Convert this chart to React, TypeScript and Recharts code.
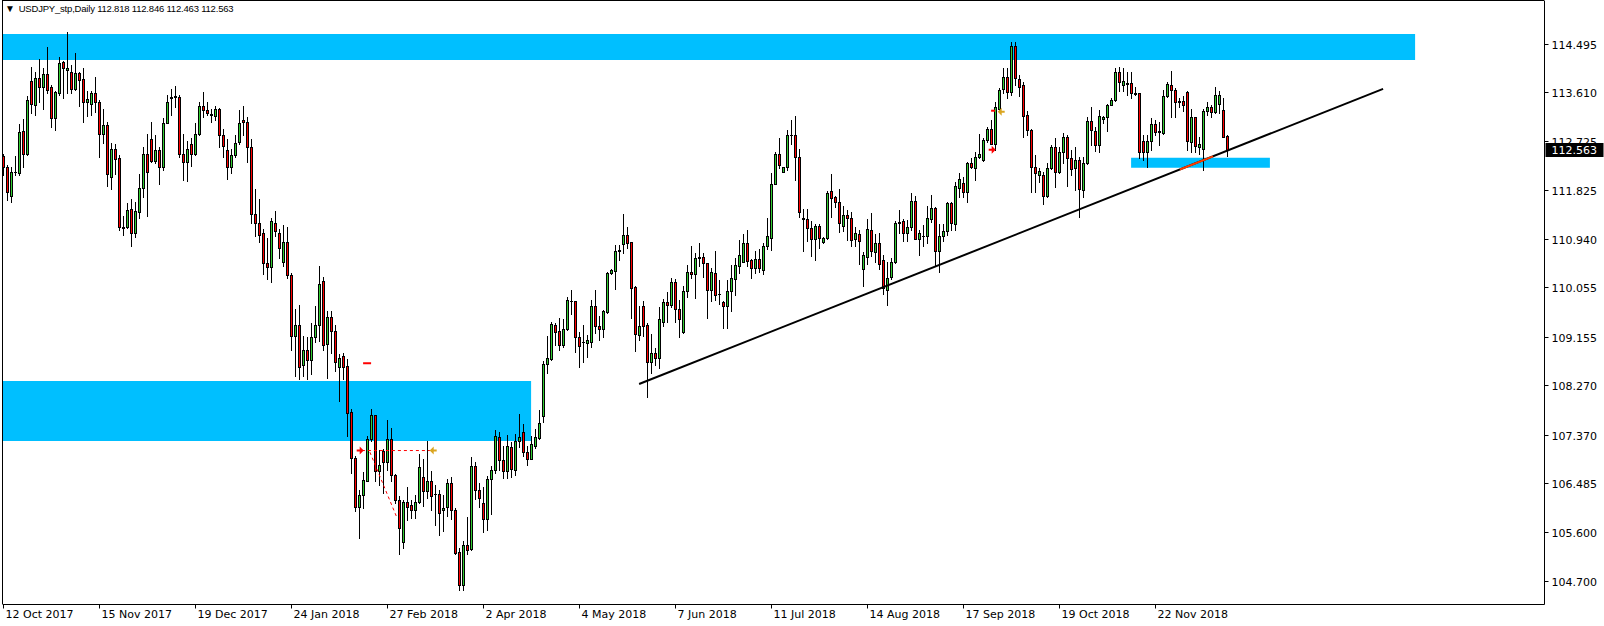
import React from 'react'
import {
  ComposedChart,
  Bar,
  XAxis,
  YAxis,
  ReferenceArea,
  ReferenceLine,
  ReferenceDot,
} from 'recharts'

// USDJPY_stp daily, bar 0 = 12 Oct 2017
const open = [
  112.45, 112.26, 111.73, 112.16, 112.15, 112.91, 112.49, 113.83, 113.39, 113.87,
  113.71, 113.94, 113.71, 113.14, 113.60, 114.17, 114.03, 113.98, 113.67, 113.96,
  113.85, 113.44, 113.40, 113.60, 113.43, 112.85, 113.02, 112.08, 112.59, 112.41,
  111.16, 111.16, 111.49, 111.06, 111.44, 111.88, 112.50, 112.77, 112.36, 112.56,
  112.25, 113.06, 113.52, 113.53, 113.53, 112.50, 112.35, 112.68, 112.49, 112.85,
  113.36, 113.30, 113.22, 113.19, 113.32, 112.84, 112.56, 112.25, 112.48, 112.71,
  113.11, 113.07, 112.61, 111.40, 111.23, 111.05, 110.50, 110.43, 111.24, 111.05,
  110.53, 110.89, 110.29, 109.18, 109.38, 108.65, 108.92, 108.73, 109.15, 109.37,
  110.18, 109.03, 109.52, 109.27, 108.62, 108.81, 108.63, 107.79, 106.96, 106.07,
  106.28, 106.54, 107.30, 107.73, 106.71, 107.08, 106.88, 107.30, 106.65, 106.18,
  105.43, 106.15, 106.10, 106.01, 106.16, 106.61, 106.36, 106.54, 106.29, 106.30,
  106.01, 106.06, 106.50, 106.01, 105.25, 104.64, 105.37, 105.29, 106.81, 106.38,
  106.13, 105.84, 106.57, 106.73, 107.34, 106.92, 106.71, 107.15, 106.73, 107.26,
  107.42, 107.06, 106.94, 107.17, 107.32, 107.72, 108.67, 108.76, 109.38, 109.26,
  109.02, 109.30, 109.82, 109.81, 109.16, 109.07, 109.04, 109.07, 109.72, 109.36,
  109.30, 109.61, 110.32, 110.36, 110.73, 110.85, 111.02, 110.88, 110.06, 109.20,
  109.72, 109.38, 108.71, 108.86, 108.78, 109.43, 109.80, 109.75, 110.16, 109.66,
  109.25, 110.00, 110.34, 110.30, 110.62, 110.62, 110.50, 110.02, 110.32, 109.95,
  109.79, 109.73, 109.99, 110.21, 110.45, 110.53, 110.87, 110.56, 110.41, 110.57,
  110.38, 110.82, 110.97, 111.95, 112.50, 112.17, 112.25, 112.83, 112.83, 112.43,
  111.33, 111.30, 111.15, 110.94, 111.18, 110.88, 110.97, 111.82, 111.70, 111.61,
  111.18, 111.38, 111.33, 110.94, 111.03, 110.39, 110.62, 111.11, 110.70, 110.87,
  110.56, 110.02, 110.26, 110.52, 111.23, 111.27, 111.05, 111.16, 111.64, 110.94,
  111.00, 110.99, 111.30, 111.51, 110.73, 111.00, 111.08, 111.59, 111.21, 111.88,
  111.97, 111.80, 112.32, 112.23, 112.44, 112.38, 112.74, 112.95, 112.68, 113.32,
  113.68, 113.89, 113.62, 114.46, 113.85, 113.75, 113.20, 112.93, 112.26, 112.10,
  112.11, 111.73, 112.23, 112.61, 112.17, 112.52, 112.80, 112.41, 112.23, 112.38,
  111.83, 112.32, 113.09, 112.91, 112.66, 113.12, 113.16, 113.39, 113.48, 113.98,
  113.75, 113.79, 113.78, 113.60, 113.60, 112.73, 112.52, 112.73, 113.03, 112.91,
  112.87, 113.54, 113.75, 113.65, 113.45, 113.45, 113.62, 112.71, 113.16, 112.61,
  112.59, 113.28, 113.34, 113.25, 113.41, 113.30, 112.818,
]
const high = [
  112.50, 112.29, 112.26, 112.45, 113.04, 113.13, 113.55, 114.07, 113.99, 114.23,
  114.05, 114.44, 113.75, 113.63, 114.26, 114.18, 114.72, 114.11, 114.33, 113.99,
  114.05, 113.63, 113.63, 113.89, 113.48, 113.31, 113.08, 112.69, 112.68, 112.47,
  111.36, 111.59, 111.67, 111.62, 112.13, 112.62, 112.86, 113.08, 112.84, 112.62,
  113.15, 113.57, 113.68, 113.73, 113.57, 112.86, 112.72, 112.78, 113.06, 113.43,
  113.62, 113.43, 113.32, 113.36, 113.33, 112.95, 112.77, 112.58, 112.84, 113.29,
  113.36, 113.16, 112.77, 111.85, 111.67, 111.13, 110.97, 111.33, 111.46, 111.12,
  111.20, 111.17, 110.32, 109.67, 109.74, 109.17, 109.16, 109.41, 109.72, 110.45,
  110.26, 109.64, 109.64, 109.38, 108.85, 108.87, 108.76, 107.85, 106.99, 106.37,
  106.70, 107.36, 107.85, 107.74, 107.10, 107.11, 107.64, 107.50, 106.66, 106.26,
  106.19, 106.42, 106.19, 106.28, 107.02, 106.93, 107.27, 106.71, 106.47, 106.38,
  106.28, 106.57, 106.61, 106.04, 105.32, 105.45, 105.88, 106.98, 106.89, 106.50,
  106.42, 106.63, 106.81, 107.47, 107.42, 107.17, 107.38, 107.24, 107.39, 107.75,
  107.57, 107.17, 107.36, 107.48, 107.82, 108.72, 109.17, 109.43, 109.42, 109.51,
  109.48, 109.88, 110.02, 109.82, 109.24, 109.38, 109.20, 109.83, 110.01, 109.54,
  109.65, 110.34, 110.39, 110.84, 110.84, 111.39, 111.16, 110.89, 110.08, 109.72,
  109.81, 109.41, 109.21, 108.95, 109.70, 109.85, 109.97, 110.23, 110.22, 109.83,
  110.08, 110.47, 110.82, 110.68, 110.87, 110.68, 110.51, 110.42, 110.73, 110.20,
  109.82, 110.20, 110.47, 110.59, 110.93, 111.03, 111.11, 110.58, 110.72, 110.77,
  110.87, 111.33, 112.14, 112.52, 112.78, 112.26, 112.93, 113.11, 113.18, 112.59,
  111.49, 111.49, 111.28, 111.21, 111.22, 110.98, 111.82, 112.13, 111.73, 111.85,
  111.55, 111.47, 111.43, 111.16, 111.10, 110.70, 111.30, 111.42, 111.03, 111.05,
  110.66, 110.52, 110.60, 111.27, 111.47, 111.31, 111.29, 111.79, 111.73, 111.11,
  111.20, 111.54, 111.74, 111.52, 111.21, 111.22, 111.62, 111.62, 111.98, 112.14,
  112.08, 112.35, 112.41, 112.53, 112.86, 112.78, 112.99, 113.11, 113.44, 113.69,
  114.05, 114.05, 114.53, 114.53, 113.93, 113.81, 113.28, 112.94, 112.47, 112.23,
  112.17, 112.32, 112.65, 112.78, 112.62, 112.87, 112.84, 112.56, 112.62, 112.43,
  112.43, 113.17, 113.35, 112.98, 113.29, 113.18, 113.41, 113.51, 114.05, 114.07,
  114.05, 113.99, 113.99, 113.72, 113.61, 112.84, 112.84, 113.14, 113.11, 113.08,
  113.66, 113.81, 114.00, 113.69, 113.51, 113.54, 113.63, 113.32, 113.17, 112.81,
  113.32, 113.44, 113.38, 113.72, 113.63, 113.51, 112.846,
]
const low = [
  112.11, 111.65, 111.62, 112.11, 112.10, 112.26, 112.47, 113.23, 113.21, 113.44,
  113.32, 113.61, 112.99, 112.92, 113.57, 113.51, 113.60, 113.60, 113.66, 113.37,
  113.07, 113.19, 113.21, 113.25, 112.44, 112.70, 111.91, 111.85, 112.13, 111.10,
  111.02, 111.14, 110.81, 110.98, 111.33, 111.70, 111.36, 112.34, 112.32, 111.95,
  112.20, 113.05, 113.21, 113.34, 112.43, 112.01, 112.00, 112.28, 112.47, 112.84,
  113.17, 113.21, 113.08, 113.11, 112.62, 112.44, 112.03, 112.14, 112.43, 112.68,
  112.84, 112.34, 111.24, 111.00, 110.89, 110.30, 110.21, 110.16, 110.99, 110.59,
  110.46, 110.23, 108.93, 108.45, 108.39, 108.45, 108.39, 108.49, 109.06, 109.09,
  108.92, 108.42, 108.86, 108.54, 108.00, 108.40, 107.36, 106.68, 105.99, 105.50,
  106.05, 106.53, 107.27, 106.54, 106.47, 106.32, 106.74, 106.53, 106.14, 105.20,
  105.31, 105.82, 105.86, 105.86, 106.13, 106.08, 106.22, 106.01, 105.73, 105.56,
  105.63, 105.89, 105.84, 105.21, 104.55, 104.55, 105.21, 105.27, 106.20, 106.07,
  105.61, 105.64, 105.94, 106.68, 106.74, 106.59, 106.59, 106.61, 106.65, 107.16,
  106.99, 106.83, 106.93, 107.14, 107.30, 107.61, 108.50, 108.74, 109.01, 108.93,
  108.98, 109.29, 109.57, 108.89, 108.61, 108.71, 108.80, 108.98, 109.23, 109.10,
  109.16, 109.59, 110.31, 110.04, 110.56, 110.69, 110.78, 109.51, 108.91, 109.11,
  109.17, 108.07, 108.51, 108.64, 108.60, 109.35, 109.44, 109.70, 109.44, 109.16,
  109.23, 109.88, 110.24, 109.87, 110.45, 110.26, 109.51, 109.82, 109.83, 109.76,
  109.33, 109.33, 109.63, 109.93, 110.33, 110.52, 110.45, 110.24, 110.32, 110.35,
  110.31, 110.76, 110.75, 111.94, 112.23, 112.16, 112.20, 112.67, 112.01, 111.34,
  110.72, 110.90, 110.63, 110.56, 110.78, 110.87, 110.95, 111.34, 111.52, 111.07,
  111.08, 110.92, 110.81, 110.82, 110.49, 110.08, 110.49, 110.63, 110.53, 110.39,
  109.95, 109.74, 110.21, 110.51, 111.05, 110.90, 110.90, 111.11, 110.94, 110.65,
  110.82, 110.87, 111.25, 110.47, 110.35, 110.90, 111.02, 111.11, 111.11, 111.71,
  111.71, 111.62, 112.24, 112.01, 112.42, 112.37, 112.71, 112.67, 112.56, 113.29,
  113.61, 113.51, 113.57, 113.75, 113.55, 112.80, 112.84, 111.80, 111.80, 111.98,
  111.58, 111.70, 112.22, 111.89, 112.14, 112.32, 111.91, 112.11, 111.83, 111.34,
  111.71, 112.31, 112.65, 112.54, 112.53, 113.05, 112.91, 113.38, 113.45, 113.63,
  113.63, 113.57, 113.51, 113.57, 112.41, 112.38, 112.26, 112.56, 112.84, 112.65,
  112.86, 113.53, 113.17, 113.17, 113.35, 113.28, 112.56, 112.53, 112.53, 112.50,
  112.20, 113.20, 113.17, 113.23, 113.24, 112.80, 112.463,
]
const close = [
  112.25, 111.80, 112.17, 112.17, 112.89, 112.50, 113.47, 113.40, 113.87, 113.71,
  113.94, 113.65, 113.14, 113.62, 114.14, 114.05, 114.06, 113.67, 113.96, 113.84,
  113.43, 113.49, 113.60, 113.43, 112.85, 113.02, 112.13, 112.59, 112.40, 111.16,
  111.15, 111.47, 111.06, 111.46, 111.88, 112.50, 112.16, 112.37, 112.56, 112.25,
  113.06, 113.43, 113.53, 113.54, 112.50, 112.35, 112.58, 112.50, 112.85, 113.36,
  113.29, 113.24, 113.21, 113.32, 112.83, 112.64, 112.25, 112.47, 112.70, 113.06,
  113.07, 112.61, 111.40, 111.23, 111.01, 110.50, 110.43, 111.27, 111.08, 110.78,
  110.89, 110.28, 109.18, 109.38, 108.61, 108.92, 108.73, 109.15, 109.38, 110.13,
  109.02, 109.52, 109.27, 108.70, 108.77, 108.62, 107.78, 106.95, 106.07, 106.28,
  106.55, 107.30, 107.73, 106.71, 106.83, 106.88, 107.30, 106.64, 106.18, 105.67,
  106.15, 106.07, 106.01, 106.15, 106.79, 106.36, 106.54, 106.27, 106.30, 105.95,
  106.05, 106.50, 106.01, 105.23, 104.64, 105.37, 105.28, 106.81, 106.38, 106.23,
  105.84, 106.57, 106.74, 107.36, 106.91, 106.71, 107.17, 106.75, 107.27, 107.34,
  107.07, 106.94, 107.20, 107.34, 107.60, 108.67, 108.77, 109.40, 109.25, 109.02,
  109.31, 109.84, 109.81, 109.15, 109.00, 109.06, 109.10, 109.72, 109.35, 109.31,
  109.63, 110.32, 110.37, 110.73, 110.74, 111.02, 110.87, 110.05, 109.22, 109.36,
  109.36, 108.71, 108.86, 108.78, 109.49, 109.79, 109.75, 110.16, 109.66, 109.48,
  110.00, 110.35, 110.30, 110.59, 110.59, 110.51, 110.02, 110.34, 109.93, 109.94,
  109.73, 110.00, 110.23, 110.47, 110.65, 110.87, 110.55, 110.42, 110.57, 110.42,
  110.82, 110.99, 111.95, 112.50, 112.30, 112.25, 112.84, 112.84, 112.43, 111.43,
  111.30, 111.15, 110.94, 111.18, 110.97, 110.97, 111.79, 111.69, 111.61, 111.23,
  111.38, 111.33, 110.92, 111.05, 110.90, 110.65, 111.12, 110.72, 110.87, 110.48,
  110.05, 110.24, 110.52, 111.24, 111.25, 111.05, 111.16, 111.64, 110.95, 111.06,
  110.99, 111.32, 111.51, 110.73, 111.00, 111.09, 111.59, 111.23, 111.91, 112.03,
  111.80, 112.32, 112.25, 112.44, 112.50, 112.74, 112.95, 112.68, 113.34, 113.66,
  113.89, 113.62, 114.46, 113.87, 113.71, 113.19, 112.92, 112.25, 112.14, 112.19,
  111.73, 112.23, 112.62, 112.17, 112.52, 112.80, 112.41, 112.22, 112.38, 111.85,
  112.33, 113.09, 112.92, 112.66, 113.18, 113.16, 113.39, 113.48, 113.98, 113.81,
  113.83, 113.77, 113.60, 113.59, 112.52, 112.52, 112.73, 113.04, 112.89, 112.90,
  113.55, 113.76, 113.66, 113.44, 113.44, 113.38, 112.73, 113.16, 112.63, 112.67,
  113.28, 113.34, 113.25, 113.56, 113.57, 112.81, 112.563,
]

// date labels every 24 bars
const tickBars = [0, 24, 48, 72, 96, 120, 144, 168, 192, 216, 240, 264, 288]
const tickDates = [
  '12 Oct 2017', '15 Nov 2017', '19 Dec 2017', '24 Jan 2018', '27 Feb 2018',
  '2 Apr 2018', '4 May 2018', '7 Jun 2018', '11 Jul 2018', '14 Aug 2018',
  '17 Sep 2018', '19 Oct 2018', '22 Nov 2018',
]
const priceTicks = [
  114.495, 113.61, 112.725, 111.825, 110.94, 110.055, 109.155, 108.27, 107.37,
  106.485, 105.6, 104.7,
]

// rectangles drawn on the chart (bar index, price)
const zones = [
  { x1: -1, x2: 352.9, y1: 114.204, y2: 114.678 },
  { x1: -1, x2: 131.9, y1: 107.264, y2: 108.357 },
  { x1: 281.9, x2: 316.6, y1: 112.242, y2: 112.424 },
]
const trendLine = [
  { x: 158.9, y: 108.301 },
  { x: 344.9, y: 113.678 },
]
const trendTouch = [
  { x: 294.1, y: 112.209 },
  { x: 302.4, y: 112.449 },
]

const BULL = '#32cd32'
const BEAR = '#ff0000'
const ZONE = '#00bfff'
const GOLD = '#daa520'
const FONT = '"DejaVu Sans", Verdana, sans-serif'

const rows = open.map((o, i) => ({
  i,
  o,
  h: high[i],
  l: low[i],
  c: close[i],
  range: [low[i], high[i]],
}))

const last = rows[rows.length - 1]

function Candle(props: any) {
  const { x, y, width, height, payload } = props
  if (x == null || y == null) return null
  const top = Math.min(y, y + height)
  const bot = Math.max(y, y + height)
  const k = (bot - top) / (payload.h - payload.l || 1)
  const py = (v: number) => top + (payload.h - v) * k
  const cx = Math.round(x + width / 2 - 0.5) + 0.5
  const bTop = Math.round(py(Math.max(payload.o, payload.c))) + 0.5
  const bBot = Math.round(py(Math.min(payload.o, payload.c))) + 0.5
  const up = payload.c >= payload.o
  return (
    <g>
      <line x1={cx} x2={cx} y1={Math.round(top)} y2={Math.round(bot) + 1} stroke="#000" strokeWidth={1} />
      {bBot - bTop >= 1 ? (
        <rect x={cx - 1} y={bTop} width={2} height={bBot - bTop} fill={up ? BULL : BEAR} stroke="#000" strokeWidth={1} />
      ) : (
        <line x1={cx - 1.5} x2={cx + 1.5} y1={bTop} y2={bTop} stroke="#000" strokeWidth={1} />
      )}
    </g>
  )
}

function DateTick(props: any) {
  const { x, y, payload } = props
  const idx = tickBars.indexOf(payload.value)
  const px = Math.round(x - 0.5) + 0.5
  return (
    <g>
      <line x1={px} x2={px} y1={y} y2={y + 4} stroke="#000" />
      <text x={px + 2} y={y + 13} fontSize={11} fontFamily={FONT} fill="#000">
        {tickDates[idx]}
      </text>
    </g>
  )
}

function PriceTick(props: any) {
  const { x, y, payload } = props
  const py = Math.round(y - 0.5) + 0.5
  return (
    <g>
      <line x1={x} x2={x + 4} y1={py} y2={py} stroke="#000" />
      <text x={x + 7} y={py + 4} fontSize={11} fontFamily={FONT} fill="#000">
        {payload.value.toFixed(3)}
      </text>
    </g>
  )
}

function PriceBox(props: any) {
  const vb = props.viewBox || {}
  const right = vb.x + vb.width
  const py = Math.round(vb.y)
  return (
    <g>
      <rect x={right + 1} y={py - 7} width={58} height={14} fill="#000" />
      <text x={right + 7} y={py + 4} fontSize={11} fontFamily={FONT} fill="#fff">
        {last.c.toFixed(3)}
      </text>
    </g>
  )
}

// MT4 style trade arrow
function Arrow(props: any) {
  const { cx, cy, fill, dir } = props
  if (cx == null) return null
  const s = dir || 1
  return (
    <path
      d={`M${cx - 6 * s},${cy - 1} L${cx - 3 * s},${cy - 1} L${cx - 3 * s},${cy - 4} L${cx + 1 * s},${cy} L${cx - 3 * s},${cy + 4} L${cx - 3 * s},${cy + 1} L${cx - 6 * s},${cy + 1} Z`}
      fill={fill}
    />
  )
}

export default function App() {
  const title = `USDJPY_stp,Daily ${last.o.toFixed(3)} ${last.h.toFixed(3)} ${last.l.toFixed(3)} ${last.c.toFixed(3)}`
  return (
    <div style={{ position: 'relative', width: 1604, height: 626, background: '#fff', overflow: 'hidden' }}>
      <style>{'body{margin:0}'}</style>
      <ComposedChart
        width={1604}
        height={626}
        data={rows}
        margin={{ top: 0.5, right: 0, bottom: 0, left: 2.5 }}
      >
        <XAxis
          dataKey="i"
          type="number"
          domain={[-0.25, 385.25]}
          ticks={tickBars}
          interval={0}
          tick={<DateTick />}
          tickSize={0}
          tickMargin={0}
          tickLine={false}
          axisLine={{ stroke: '#000' }}
          height={21.5}
          allowDataOverflow
        />
        <YAxis
          orientation="right"
          type="number"
          domain={[104.2855, 115.2874]}
          ticks={priceTicks}
          interval={0}
          tick={<PriceTick />}
          tickSize={0}
          tickMargin={0}
          tickLine={false}
          axisLine={{ stroke: '#000' }}
          width={59.5}
          allowDataOverflow
        />
        {zones.map((z, k) => (
          <ReferenceArea
            key={k}
            x1={z.x1}
            x2={z.x2}
            y1={z.y1}
            y2={z.y2}
            fill={ZONE}
            fillOpacity={1}
            stroke="none"
            ifOverflow="hidden"
          />
        ))}
        <Bar dataKey="range" barSize={4} shape={(p: any) => <Candle {...p} />} isAnimationActive={false} />
        <ReferenceLine segment={trendLine} stroke="#000" strokeWidth={2} ifOverflow="visible" />
        <ReferenceLine segment={trendTouch} stroke="#ff3c00" strokeWidth={2} ifOverflow="visible" />
        {/* trade history marks */}
        <ReferenceLine segment={[{ x: 89.9, y: 108.68 }, { x: 91.9, y: 108.68 }]} stroke={BEAR} strokeWidth={2} />
        <ReferenceLine segment={[{ x: 89.6, y: 107.09 }, { x: 106.6, y: 107.09 }]} stroke={BEAR} strokeDasharray="3 3" />
        <ReferenceLine segment={[{ x: 91.6, y: 107.06 }, { x: 98.4, y: 105.86 }]} stroke={BEAR} strokeDasharray="3 3" />
        <ReferenceDot x={89.8} y={107.09} r={3} shape={(p: any) => <Arrow {...p} fill={BEAR} dir={1} />} />
        <ReferenceDot x={106.8} y={107.09} r={3} shape={(p: any) => <Arrow {...p} fill={GOLD} dir={-1} />} />
        <ReferenceLine segment={[{ x: 246.9, y: 113.28 }, { x: 247.9, y: 113.28 }]} stroke={BEAR} strokeWidth={2} />
        <ReferenceDot x={248.8} y={113.26} r={3} shape={(p: any) => <Arrow {...p} fill={GOLD} dir={-1} />} />
        <ReferenceDot x={247.8} y={112.57} r={3} shape={(p: any) => <Arrow {...p} fill={BEAR} dir={1} />} />
        <ReferenceLine y={last.c} stroke="none" ifOverflow="visible" label={<PriceBox />} />
      </ComposedChart>
      <div
        style={{
          position: 'absolute',
          left: 2,
          top: 0,
          width: 1542,
          height: 604,
          borderLeft: '1px solid #000',
          borderTop: '1px solid #000',
          pointerEvents: 'none',
          boxSizing: 'border-box',
        }}
      />
      <div
        style={{
          position: 'absolute',
          left: 5,
          top: 3,
          fontFamily: '"Liberation Sans", Arial, sans-serif',
          fontSize: 9.5,
          letterSpacing: -0.2,
          color: '#000',
          whiteSpace: 'pre',
        }}
      >
        <span style={{ fontSize: 10, marginRight: 4 }}>▼</span>
        {title}
      </div>
    </div>
  )
}
